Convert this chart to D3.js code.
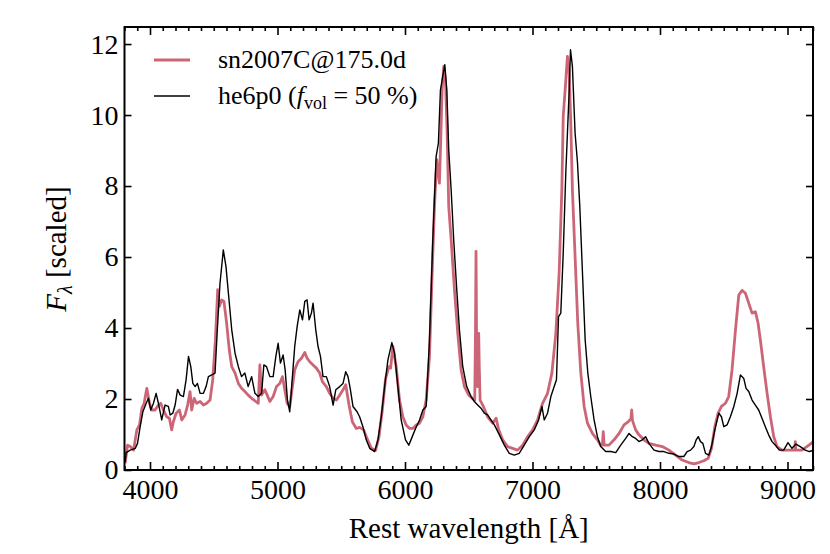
<!DOCTYPE html>
<html>
<head>
<meta charset="utf-8">
<script src="https://cdn.jsdelivr.net/npm/d3@7"></script>
<style>
body { margin: 0; background: #fff; }
text { font-family: "Liberation Serif", "DejaVu Serif", serif; fill: #000; }
</style>
</head>
<body>
<svg></svg>
<script>
// 光谱数据
var snWave = [3805,3824,3845,3871,3897,3918,3936,3954,3975,3996,4014,4040,4066,4084,4105,4131,4152,4170,4183,4205,4231,4249,4275,4295,4314,4327,4346,4366,4393,4419,4445,4471,4492,4513,4531,4544,4562,4580,4601,4622,4641,4667,4693,4718,4744,4770,4797,4830,4849,4862,4875,4901,4919,4940,4966,4992,5018,5039,5057,5076,5096,5117,5135,5161,5188,5214,5232,5253,5279,5305,5331,5352,5383,5409,5436,5462,5488,5514,5535,5561,5587,5618,5644,5676,5702,5736,5770,5796,5822,5848,5874,5887,5905,5931,5957,5983,6009,6036,6062,6088,6114,6140,6166,6192,6213,6231,6249,6270,6278,6291,6304,6317,6330,6343,6362,6388,6414,6440,6466,6500,6531,6547,6553,6557,6561,6568,6574,6578,6582,6589,6615,6648,6688,6714,6735,6766,6805,6844,6883,6922,6962,7001,7040,7079,7118,7152,7183,7209,7230,7241,7256,7274,7288,7301,7313,7334,7355,7379,7405,7431,7470,7509,7535,7548,7555,7562,7600,7640,7679,7718,7752,7772,7778,7784,7791,7809,7835,7874,7913,7966,8018,8070,8122,8174,8226,8266,8305,8344,8378,8404,8430,8456,8482,8513,8539,8565,8592,8618,8644,8670,8696,8722,8748,8769,8787,8813,8840,8866,8892,8918,8957,8996,9035,9058,9061,9066,9113,9152,9186,9200];
var snFlux = [0.19,0.70,0.66,0.56,1.13,1.27,1.74,1.88,2.30,1.88,1.69,1.69,1.83,1.88,1.69,1.50,1.46,1.13,1.36,1.60,1.69,1.41,1.55,1.83,2.21,1.69,2.02,1.88,1.93,1.83,1.88,1.97,2.54,3.67,5.08,4.61,4.79,4.75,4.14,3.38,2.91,2.73,2.44,2.30,2.21,2.11,2.02,1.93,1.88,2.96,2.11,2.26,2.11,1.93,2.07,2.35,2.44,2.63,2.26,1.88,1.79,2.35,2.82,3.05,3.15,3.31,3.15,3.05,2.96,2.87,2.73,2.49,2.35,2.16,2.02,1.97,2.11,2.26,2.40,1.83,1.36,1.17,1.20,1.13,0.89,0.61,0.56,0.94,1.69,2.58,2.91,2.87,3.48,2.91,1.97,1.50,1.27,1.17,1.17,1.27,1.32,1.50,1.97,3.20,5.55,7.42,8.74,8.08,9.02,10.71,11.37,10.99,9.59,7.42,6.48,5.08,3.85,2.82,2.35,2.11,2.01,1.97,4.0,6.16,4.0,2.35,3.0,3.85,3.0,1.97,1.79,1.50,1.32,1.46,1.13,0.85,0.66,0.61,0.56,0.70,0.94,1.13,1.41,1.88,2.16,2.73,3.85,5.55,7.89,9.96,10.71,11.65,11.18,9.68,7.89,6.02,4.14,2.73,1.79,1.32,1.03,0.85,0.70,0.70,1.08,0.70,0.70,0.85,1.03,1.27,1.36,1.45,1.69,1.40,1.32,1.13,0.99,0.85,0.75,0.70,0.66,0.56,0.42,0.28,0.21,0.17,0.21,0.26,0.33,0.61,1.22,1.60,1.79,1.88,2.07,2.82,3.95,4.93,5.06,4.98,4.70,4.42,4.46,4.14,3.67,2.91,2.16,1.50,0.94,0.66,0.56,0.56,0.56,0.56,0.80,0.56,0.56,0.66,0.75,0.80];

var heWave = [3805,3813,3845,3884,3902,3923,3944,3970,3988,4006,4027,4048,4066,4092,4118,4144,4158,4179,4197,4216,4237,4262,4283,4302,4320,4336,4354,4372,4393,4419,4440,4458,4484,4510,4528,4549,4575,4596,4622,4641,4667,4693,4718,4744,4770,4797,4823,4849,4875,4893,4914,4940,4966,4987,5005,5023,5044,5060,5078,5096,5117,5135,5154,5175,5196,5214,5232,5248,5266,5279,5300,5318,5337,5357,5383,5409,5436,5457,5488,5514,5535,5553,5572,5592,5624,5644,5670,5696,5723,5762,5788,5814,5840,5866,5897,5918,5944,5970,6004,6030,6057,6083,6114,6140,6166,6192,6218,6244,6262,6278,6296,6312,6328,6343,6362,6382,6406,6427,6453,6484,6518,6544,6570,6596,6622,6648,6674,6701,6740,6779,6818,6857,6896,6935,6975,7014,7048,7074,7092,7118,7144,7170,7188,7204,7222,7241,7261,7274,7288,7298,7313,7334,7353,7371,7392,7413,7434,7457,7483,7509,7535,7574,7614,7653,7692,7731,7757,7783,7809,7835,7861,7887,7913,7953,7992,8031,8070,8109,8148,8187,8213,8240,8266,8284,8300,8318,8336,8357,8383,8404,8430,8461,8482,8500,8526,8552,8579,8605,8631,8657,8675,8696,8722,8748,8774,8800,8826,8852,8879,8905,8936,8970,9004,9035,9066,9100,9139,9171,9200];
var heFlux = [0.22,0.49,0.56,0.61,0.75,1.22,1.64,1.88,2.02,1.69,1.88,2.16,1.88,1.41,1.83,1.79,1.55,1.60,1.83,2.27,2.11,2.07,2.54,3.20,2.91,2.44,2.35,2.44,2.16,2.16,2.35,2.63,2.68,2.73,3.95,5.26,6.20,5.73,4.70,3.95,3.29,2.91,2.63,2.73,2.35,2.63,2.16,2.07,2.16,2.96,2.91,2.63,2.63,3.20,3.57,3.01,3.24,2.82,1.97,1.64,2.63,3.48,4.04,4.51,4.23,4.75,4.79,4.23,4.42,4.70,3.95,3.48,3.20,2.63,2.63,2.35,1.83,2.26,2.35,2.44,2.77,2.63,2.26,1.79,1.64,1.50,1.22,0.85,0.61,0.52,0.85,1.50,2.35,3.10,3.59,3.29,2.35,1.41,0.85,0.70,0.94,1.17,1.41,1.69,1.79,3.67,6.48,8.83,9.21,10.71,11.09,11.42,10.71,9.02,7.89,6.48,5.08,3.95,2.91,2.35,2.07,1.93,1.83,1.74,1.60,1.55,1.41,1.27,0.99,0.70,0.47,0.42,0.47,0.70,0.94,1.13,1.41,1.79,1.41,1.60,2.07,2.35,2.54,4.32,4.42,6.11,8.36,9.49,10.71,11.84,11.37,9.49,8.65,7.42,5.55,3.67,2.73,2.07,1.41,0.94,0.66,0.52,0.52,0.49,0.70,0.89,1.03,0.94,0.89,0.80,0.85,0.94,0.75,0.56,0.52,0.52,0.47,0.45,0.38,0.38,0.52,0.56,0.66,0.85,0.94,0.80,0.75,0.47,0.42,0.66,1.13,1.60,1.50,1.22,1.27,1.50,1.79,2.16,2.68,2.58,2.30,2.21,1.97,1.83,1.69,1.46,1.22,0.99,0.80,0.70,0.56,0.56,0.77,0.61,0.73,0.66,0.56,0.52,0.55];

var xMajor = [4000, 5000, 6000, 7000, 8000, 9000];
var yMajor = [0, 2, 4, 6, 8, 10, 12];
var legendNames = ["sn2007C@175.0d", "he6p0"];
var colors = ["#cc6677", "#000000"];

var svg = d3.select('svg')
.attr('width', 830)
.attr('height', 554)

var pLeft = 124.5, pRight = 813, pTop = 27, pBottom = 470;

// 比例尺
const x = d3.scaleLinear()
.domain([3800, 9200])
.range([pLeft, pRight]);
const y = d3.scaleLinear()
.domain([0, 12.48])
.range([pBottom, pTop]);

svg.append('clipPath').attr('id', 'clip')
.append('rect')
.attr('x', pLeft).attr('y', pTop)
.attr('width', pRight - pLeft).attr('height', pBottom - pTop);

var line = d3.line()
.x(d => x(d[0]))
.y(d => y(d[1]));

var snData = snWave.map((w, i) => [w, snFlux[i]]);
var heData = heWave.map((w, i) => [w, heFlux[i]]);

// 绘制光谱
svg.append('path')
.datum(snData)
.attr('d', line)
.attr('clip-path', 'url(#clip)')
.attr('fill', 'none')
.attr('stroke', colors[0])
.attr('stroke-width', 2.8)
.attr('stroke-linejoin', 'round');

svg.append('path')
.datum(heData)
.attr('d', line)
.attr('clip-path', 'url(#clip)')
.attr('fill', 'none')
.attr('stroke', colors[1])
.attr('stroke-width', 1.4)
.attr('stroke-linejoin', 'round');

// 坐标轴 (刻度朝内)
var xMinor = d3.range(3800, 9201, 100).filter(v => xMajor.indexOf(v) < 0);

function styleAxis(g) {
  g.select('.domain').remove();
  g.selectAll('.tick line').attr('stroke', '#000').attr('stroke-width', 1.6);
  g.selectAll('.tick text').style('font-size', '28px').style('font-family', '"Liberation Serif", serif');
}

svg.append('g')
.attr('transform', `translate(0,${pBottom})`)
.call(d3.axisBottom(x).tickValues(xMajor).tickSize(-8).tickPadding(9).tickFormat(d3.format('d')))
.call(styleAxis);
svg.append('g')
.attr('transform', `translate(0,${pBottom})`)
.call(d3.axisBottom(x).tickValues(xMinor).tickSize(-4).tickFormat(''))
.call(styleAxis);
svg.append('g')
.attr('transform', `translate(0,${pTop})`)
.call(d3.axisTop(x).tickValues(xMajor).tickSize(-8).tickFormat(''))
.call(styleAxis);
svg.append('g')
.attr('transform', `translate(0,${pTop})`)
.call(d3.axisTop(x).tickValues(xMinor).tickSize(-4).tickFormat(''))
.call(styleAxis);

svg.append('g')
.attr('transform', `translate(${pLeft},0)`)
.call(d3.axisLeft(y).tickValues(yMajor).tickSize(-7).tickPadding(6))
.call(styleAxis);
svg.append('g')
.attr('transform', `translate(${pRight},0)`)
.call(d3.axisRight(y).tickValues(yMajor).tickSize(-7).tickFormat(''))
.call(styleAxis);

// 边框
svg.append('rect')
.attr('x', pLeft).attr('y', pTop)
.attr('width', pRight - pLeft).attr('height', pBottom - pTop)
.attr('fill', 'none')
.attr('stroke', '#000')
.attr('stroke-width', 2);

// 轴标签
svg.append('text')
.attr('x', (pLeft + pRight) / 2)
.attr('y', 538)
.style('text-anchor', 'middle')
.style('font-size', '29px')
.text('Rest wavelength [Å]');

var yl = svg.append('text')
.attr('transform', 'translate(66,249) rotate(-90)')
.style('text-anchor', 'middle')
.style('font-size', '29px');
yl.append('tspan').style('font-style', 'italic').text('F');
yl.append('tspan').attr('dy', 6).style('font-size', '20px').style('font-style', 'italic').text('λ');
yl.append('tspan').attr('dy', -6).text(' [scaled]');

// 图例
var legY = [60, 96];
legendNames.forEach((name, i) => {
  svg.append('line')
    .attr('x1', 154).attr('x2', 190)
    .attr('y1', legY[i]).attr('y2', legY[i])
    .attr('stroke', colors[i])
    .attr('stroke-width', i == 0 ? 2.8 : 1.4);
});
svg.append('text')
.attr('x', 218).attr('y', legY[0] + 8)
.style('font-size', '26px')
.text(legendNames[0]);
var lt = svg.append('text')
.attr('x', 218).attr('y', legY[1] + 8)
.style('font-size', '26px');
lt.append('tspan').text(legendNames[1] + ' (');
lt.append('tspan').style('font-style', 'italic').text('f');
lt.append('tspan').attr('dy', 5).style('font-size', '18px').text('vol');
lt.append('tspan').attr('dy', -5).text(' = 50 %)');
</script>
</body>
</html>
